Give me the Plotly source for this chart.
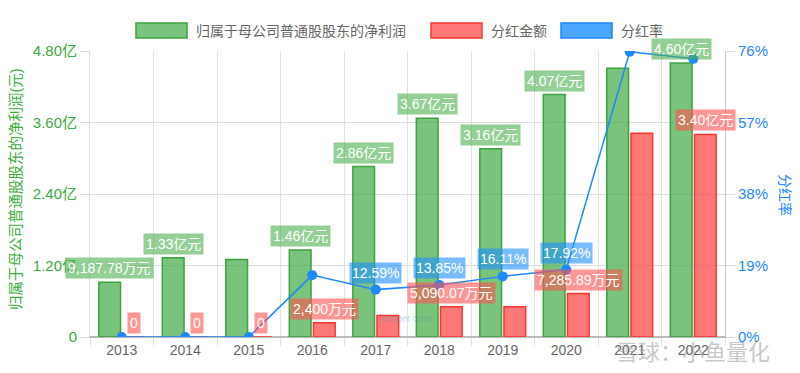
import plotly.graph_objects as go

# ---------------- data ----------------
years = ["2013", "2014", "2015", "2016", "2017", "2018", "2019", "2020", "2021", "2022"]
net_profit = [0.918778, 1.33, 1.30, 1.46, 2.86, 3.67, 3.16, 4.07, 4.51, 4.60]      # 亿元
dividend = [0, 0, 0, 0.24, 0.36, 0.509007, 0.509, 0.728589, 3.42, 3.40]            # 亿元
payout = [0, 0, 0, 16.44, 12.59, 13.85, 16.11, 17.92, 75.8, 73.91]                 # %

show_profit_label = [1, 1, 0, 1, 1, 1, 1, 1, 0, 1]
show_div_label = [1, 1, 1, 1, 0, 1, 0, 1, 0, 1]
show_payout_label = [0, 0, 0, 0, 1, 1, 1, 1, 0, 0]

left_tickvals = [0, 1.2, 2.4, 3.6, 4.8]
left_ticktext = ["0", "1.20亿", "2.40亿", "3.60亿", "4.80亿"]
right_tickvals = [0, 19, 38, 57, 76]
right_ticktext = ["0%", "19%", "38%", "57%", "76%"]

series_names = ["归属于母公司普通股股东的净利润", "分红金额", "分红率"]
left_title = "归属于母公司普通股股东的净利润(元)"
right_title = "分红率"

FONT = "Liberation Sans, Arial, Noto Sans CJK SC, sans-serif"
GREEN_FILL = "rgba(76,175,80,0.75)"
GREEN_LINE = "#3DA33F"
RED_FILL = "rgba(255,82,82,0.78)"
RED_LINE = "#FF3434"
BLUE = "#1E88FF"
GREEN_TXT = "#3DAA3D"
BLUE_TXT = "#1E88FF"


def fmt_money(v):
    if v == 0:
        return "0"
    if v >= 1:
        return f"{v:.2f}亿元"
    w = v * 10000
    s = f"{w:,.2f}"
    if s.endswith(".00"):
        s = s[:-3]
    return s + "万元"


fig = go.Figure()
fig.add_trace(go.Bar(x=years, y=net_profit, name=series_names[0], marker=dict(
    color=GREEN_FILL, line=dict(color=GREEN_LINE, width=1.5)), showlegend=False))
fig.add_trace(go.Bar(x=years, y=dividend, name=series_names[1], marker=dict(
    color=RED_FILL, line=dict(color=RED_LINE, width=1.5)), showlegend=False))
fig.add_trace(go.Scatter(x=years, y=payout, name=series_names[2], yaxis="y2",
                         mode="lines+markers", line=dict(color=BLUE, width=1.5),
                         marker=dict(color=BLUE, size=10), showlegend=False))

annotations = []
for i, y in enumerate(years):
    if show_profit_label[i]:
        annotations.append(dict(x=i, y=net_profit[i], xref="x", yref="y", text=fmt_money(net_profit[i]),
                                showarrow=False, xshift=-12, yshift=3, yanchor="bottom",
                                bgcolor="rgba(76,175,80,0.6)", borderpad=2,
                                font=dict(color="white", size=14, family=FONT)))
for i, y in enumerate(years):
    if show_div_label[i]:
        annotations.append(dict(x=i, y=dividend[i], xref="x", yref="y", text=fmt_money(dividend[i]),
                                showarrow=False, xshift=12, yshift=3, yanchor="bottom",
                                bgcolor="rgba(255,82,82,0.6)", borderpad=2,
                                font=dict(color="white", size=14, family=FONT)))
for i, y in enumerate(years):
    if show_payout_label[i]:
        annotations.append(dict(x=i, y=payout[i], xref="x", yref="y2", text=f"{payout[i]:.2f}%",
                                showarrow=False, yshift=6, yanchor="bottom",
                                bgcolor="rgba(30,144,255,0.6)", borderpad=2,
                                font=dict(color="white", size=14, family=FONT)))

# custom legend / positions expressed relative to the plot area (page pixels)
PL, PT, PW, PH = 90.0, 51.0, 635.0, 286.0
def px(xp):
    return (xp - PL) / PW
def py(yp):
    return (PT + PH - yp) / PH

# axis titles
annotations.append(dict(x=px(16), y=py(189), xref="paper", yref="paper", text=left_title, textangle=-90,
                        xanchor="center", yanchor="middle",
                        showarrow=False, font=dict(color=GREEN_TXT, size=14.5, family=FONT)))
annotations.append(dict(x=px(785), y=py(195), xref="paper", yref="paper", text=right_title, textangle=90,
                        xanchor="center", yanchor="middle",
                        showarrow=False, font=dict(color=BLUE_TXT, size=14, family=FONT)))

shapes = []
legend_items = [(136, series_names[0], GREEN_FILL, GREEN_LINE),
                (431, series_names[1], RED_FILL, RED_LINE),
                (561, series_names[2], "rgba(30,144,255,0.8)", BLUE)]
for x0, name, fill, line in legend_items:
    shapes.append(dict(type="rect", xref="paper", yref="paper", x0=px(x0), x1=px(x0 + 51),
                       y0=py(38), y1=py(23), fillcolor=fill, line=dict(color=line, width=1.5)))
    annotations.append(dict(x=px(x0 + 58), y=py(30.5), xref="paper", yref="paper", text=name,
                            xanchor="left", yanchor="middle", showarrow=False,
                            font=dict(color="#666", size=14, family=FONT)))

# watermarks
annotations.append(dict(x=px(693), y=py(350), xref="paper", yref="paper", text="雪球：小鱼量化",
                        xanchor="center", yanchor="middle",
                        showarrow=False, font=dict(color="rgba(150,150,150,0.55)", size=22,
                                                   family="Noto Sans CJK SC")))
annotations.append(dict(x=px(405), y=py(318), xref="paper", yref="paper", text="lixinger.com",
                        xanchor="center", yanchor="middle",
                        showarrow=False, font=dict(color="rgba(60,140,190,0.35)", size=10, family=FONT)))

# the page body has an 8px margin, so the figure is 8px smaller and offsets are reduced
fig.update_layout(
    width=792, height=365,
    margin=dict(l=82, r=75, t=43, b=36),
    paper_bgcolor="white", plot_bgcolor="white",
    barmode="group", bargap=0.24, bargroupgap=0.1,
    font=dict(family=FONT),
    xaxis=dict(type="category", range=[-0.5, len(years) - 0.5], tickson="boundaries",
               showgrid=True, gridcolor="#e2e2e2",
               ticks="outside", ticklen=8, tickcolor="#e2e2e2",
               tickfont=dict(color="#666", size=14, family=FONT),
               showline=True, linecolor="#bbb"),
    yaxis=dict(range=[0, 4.8], tickvals=left_tickvals, ticktext=left_ticktext,
               showgrid=True, gridcolor="#dcdcdc", zeroline=True, zerolinecolor="#bbb",
               ticks="outside", ticklen=9, tickcolor="#dcdcdc",
               tickfont=dict(color=GREEN_TXT, size=15, family=FONT),
               showline=True, linecolor="#dcdcdc"),
    yaxis2=dict(range=[0, 76], tickvals=right_tickvals, ticktext=right_ticktext,
                overlaying="y", side="right", showgrid=False, zeroline=False,
                ticks="outside", ticklen=9, tickcolor="#dcdcdc",
                tickfont=dict(color=BLUE_TXT, size=15, family=FONT),
                showline=True, linecolor="#c8c8c8"),
    annotations=annotations,
    shapes=shapes,
)

fig.write_html("out.html")
